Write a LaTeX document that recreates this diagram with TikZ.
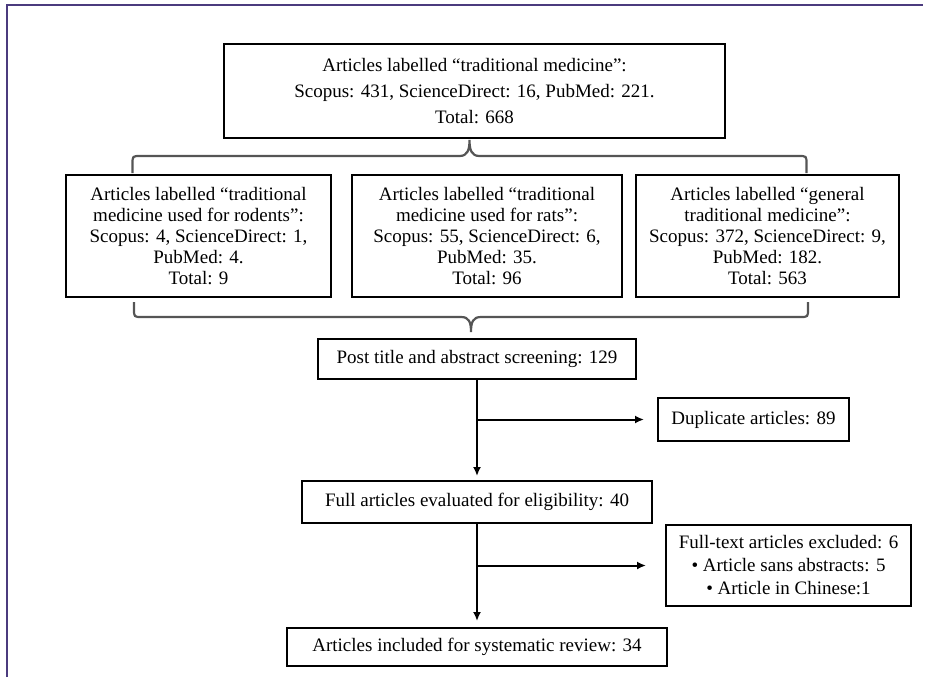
\documentclass[tikz,border=0pt]{standalone}
\usepackage{fontspec}
\setmainfont{Liberation Serif}
\usetikzlibrary{positioning, arrows.meta, calc}
\definecolor{framepurple}{HTML}{4B3B7E}
\definecolor{bracegrey}{HTML}{555555}

\begin{document}
\begin{tikzpicture}[
    x=1pt, y=-1pt,
    frame/.style={draw=framepurple, line width=2pt},
    bigbox/.style={draw=black, line width=2pt, rectangle, align=center, inner sep=0pt, minimum width=501pt, minimum height=94pt, font=\fontsize{19}{26}\selectfont},
    catbox/.style={draw=black, line width=2pt, rectangle, align=center, inner sep=0pt, minimum height=122pt, font=\fontsize{19}{21}\selectfont},
    stepbox/.style={draw=black, line width=2pt, rectangle, align=center, inner sep=0pt, font=\fontsize{19}{23}\selectfont},
    edge/.style={line width=2pt, -{Latex[length=9pt, width=8pt]}},
    curly/.style={draw=bracegrey, line width=2.2pt}
]
\useasboundingbox (0,0) rectangle (925,677);
\clip (0,0) rectangle (925,677);

% Rahmen (nur links und oben sichtbar)
\draw[frame] (7,677) -- (7,5) -- (923,5);

% Suche
\node[bigbox] (top) at (474.5,91) {Articles labelled “traditional medicine”:\\Scopus: 431, ScienceDirect: 16, PubMed: 221.\\Total: 668};

% Die drei Kategorien
\node[catbox, minimum width=270pt, below=35pt of top, xshift=12.5pt] (rats) {Articles labelled “traditional\\medicine used for rats”:\\Scopus: 55, ScienceDirect: 6,\\PubMed: 35.\\Total: 96};
\node[catbox, minimum width=265pt, left=19pt of rats] (rodents) {Articles labelled “traditional\\medicine used for rodents”:\\Scopus: 4, ScienceDirect: 1,\\PubMed: 4.\\Total: 9};
\node[catbox, minimum width=263pt, right=12pt of rats] (general) {Articles labelled “general\\traditional medicine”:\\Scopus: 372, ScienceDirect: 9,\\PubMed: 182.\\Total: 563};

% Screening
\node[stepbox, minimum width=318pt, minimum height=40pt, below=40pt of rats, xshift=-10pt] (post) {Post title and abstract screening: 129};
\node[stepbox, minimum width=191pt, minimum height=43pt, below right=17pt and 20pt of post] (dup) {Duplicate articles: 89};
\node[stepbox, minimum width=350pt, minimum height=42pt, below=100pt of post] (full) {Full articles evaluated for eligibility: 40};
\node[stepbox, minimum width=245pt, minimum height=81pt, below right=0pt and 12pt of full] (excl) {Full-text articles excluded: 6\\\textbullet{} Article sans abstracts: 5\\\textbullet{} Article in Chinese:1};
\node[stepbox, minimum width=380pt, minimum height=38pt, below=103pt of full] (final) {Articles included for systematic review: 34};

% Klammern
\coordinate (T) at ($(top.south)+(-5,1)$);
\coordinate (B) at ($(post.north)+(-6,-6)$);
\draw[curly] (T) ++(-337,33) -- ++(0,-9) .. controls +(0,-8) .. ++(8,-8) -- ++(319,0)
    .. controls +(8,0) and +(0,10) .. ++(10,-16) .. controls +(0,10) and +(-8,0) .. ++(10,16)
    -- ++(319,0) .. controls +(8,0) .. ++(8,8) -- ++(0,9);
\draw[curly] (B) ++(-337,-30) -- ++(0,7) .. controls +(0,8) .. ++(8,8) -- ++(319,0)
    .. controls +(8,0) and +(0,-10) .. ++(10,15) .. controls +(0,-10) and +(-8,0) .. ++(10,-15)
    -- ++(319,0) .. controls +(8,0) .. ++(8,-8) -- ++(0,-7);

% Pfeile
\coordinate (fork1) at (post.south |- dup.west);
\coordinate (fork2) at (full.south |- excl.west);
\draw[edge] (post.south) -- ([yshift=4pt]full.north);
\draw[edge] (fork1) -- ([xshift=-13pt]dup.west);
\draw[edge] (full.south) -- ([yshift=6pt]final.north);
\draw[edge] (fork2) -- ([xshift=-19pt]excl.west);

\end{tikzpicture}
\end{document}
